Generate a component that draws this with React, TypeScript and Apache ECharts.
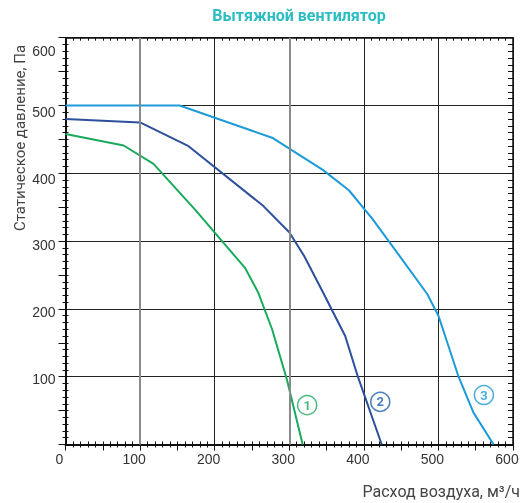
import React, { useEffect, useRef } from "react";
import * as echarts from "echarts";

const title = "Вытяжной вентилятор";
const xName = "Расход воздуха, м³/ч";
const yName = "Статическое давление, Па";

const flow1 = [0, 78, 118, 174, 241, 258, 277, 297, 318];
const pressure1 = [458, 441, 414, 346, 260, 225, 170, 95, 0];

const flow2 = [0, 100, 165, 265, 300, 320, 345, 375, 392, 424];
const pressure2 = [480, 475, 440, 352, 313, 278, 225, 160, 100, 0];

const flow3 = [0, 153, 278, 345, 380, 412, 450, 485, 500, 512, 527, 547, 574];
const pressure3 = [500, 500, 452, 405, 375, 332, 275, 222, 190, 150, 100, 47, 0];

const markerNames = ["1", "2", "3"];
const markerFlow = [324, 422, 561];
const markerPressure = [58, 63, 73];

const colors = ["#1aaa5c", "#2d4f9e", "#1c9bd8"];
const labelColors = ["#1aaa5c", "#1f5dab", "#1c9bd8"];

const zip = (a: number[], b: number[]) => a.map((v, i) => [v, b[i]]);

export default function App() {
  const ref = useRef<HTMLDivElement>(null);
  useEffect(() => {
    if (!ref.current) return;
    const chart = echarts.init(ref.current, null, { renderer: "svg" });
    const tickFont = { fontFamily: "Liberation Sans, Arial, sans-serif", fontSize: 14, color: "#333" };
    const baseX = { type: "value", min: 0, max: 600, axisLine: { onZero: false, lineStyle: { color: "#111", width: 1.5 } }, splitLine: { show: false }, axisLabel: { show: false } };
    const baseY = { type: "value", min: 0, max: 600, axisLine: { onZero: false, lineStyle: { color: "#111", width: 1.5 } }, splitLine: { show: false }, axisLabel: { show: false } };
    const curves = [zip(flow1, pressure1), zip(flow2, pressure2), zip(flow3, pressure3)];
    const series: any[] = curves.map((d, i) => ({
      type: "line",
      data: d,
      showSymbol: false,
      symbol: "none",
      lineStyle: { color: colors[i], width: 2 },
      z: 3,
    }));
    series.unshift({
      type: "line",
      data: [],
      markLine: {
        silent: true,
        symbol: "none",
        label: { show: false },
        lineStyle: { color: "#8a8a8a", width: 2, type: "solid" },
        data: [{ xAxis: 100 }, { xAxis: 300 }],
      },
      z: 2,
    });
    markerNames.forEach((n, i) => {
      series.push({
        type: "scatter",
        data: [[markerFlow[i], markerPressure[i]]],
        symbol: "circle",
        symbolSize: 19,
        itemStyle: { color: "#fff", borderColor: labelColors[i], borderWidth: 1.5 },
        label: {
          show: true,
          position: "inside",
          formatter: n,
          color: labelColors[i],
          fontWeight: "bold",
          fontSize: 13,
          fontFamily: "Roboto, sans-serif",
        },
        z: 5,
      });
    });
    chart.setOption({
      animation: false,
      grid: { left: 65.5, right: 10, top: 37.7, bottom: 58.5, containLabel: false },
      xAxis: [
        {
          ...baseX,
          position: "bottom",
          interval: 100,
          axisTick: { show: false },
          splitLine: { show: true, lineStyle: { color: "#222", width: 1 } },
          axisLabel: { show: true, ...tickFont, margin: 7, padding: [0, 12, 0, 0] },
        },
        { ...baseX, position: "bottom", interval: 10, axisTick: { show: true, inside: true, length: 3, lineStyle: { color: "#111" } } },
        { ...baseX, position: "bottom", interval: 10, axisTick: { show: true, inside: false, length: 3, lineStyle: { color: "#111" } } },
        { ...baseX, position: "bottom", interval: 50, axisTick: { show: true, inside: false, length: 6, lineStyle: { color: "#111" } } },
        { ...baseX, position: "top", interval: 10, axisTick: { show: true, inside: true, length: 3, lineStyle: { color: "#111" } } },
      ],
      yAxis: [
        {
          ...baseY,
          position: "left",
          interval: 100,
          axisTick: { show: false },
          splitLine: { show: true, lineStyle: { color: "#222", width: 1 } },
          axisLabel: {
            show: true,
            ...tickFont,
            margin: 10,
            showMinLabel: false,
            formatter: (v: number) => `{p${v}|${v}}`,
            rich: {
              p100: { ...tickFont, padding: [4, 0, 0, 0] },
              p200: { ...tickFont, padding: [6, 0, 0, 0] },
              p300: { ...tickFont, padding: [8, 0, 0, 0] },
              p400: { ...tickFont, padding: [11, 0, 0, 0] },
              p500: { ...tickFont, padding: [13, 0, 0, 0] },
              p600: { ...tickFont, padding: [26, 0, 0, 0] },
            },
          },
        },
        { ...baseY, position: "left", interval: 10, axisTick: { show: true, inside: true, length: 3, lineStyle: { color: "#111" } } },
        { ...baseY, position: "left", interval: 10, axisTick: { show: true, inside: false, length: 3, lineStyle: { color: "#111" } } },
        { ...baseY, position: "left", interval: 50, axisTick: { show: true, inside: false, length: 7, lineStyle: { color: "#111" } } },
        { ...baseY, position: "right", interval: 10, axisTick: { show: true, inside: true, length: 5, lineStyle: { color: "#111" } } },
      ],
      graphic: [
        {
          type: "text",
          x: 299,
          y: 15,
          style: {
            text: title,
            fill: "#2bbcc4",
            font: "bold 16px Roboto, sans-serif",
            textAlign: "center",
            textVerticalAlign: "middle",
          },
        },
        {
          type: "text",
          x: 20,
          y: 138,
          rotation: Math.PI / 2,
          style: {
            text: yName,
            fill: "#444",
            font: "15px Roboto, sans-serif",
            textAlign: "center",
            textVerticalAlign: "middle",
          },
        },
        {
          type: "text",
          x: 520,
          y: 491,
          style: {
            text: xName,
            fill: "#444",
            font: "16px Roboto, sans-serif",
            textAlign: "right",
            textVerticalAlign: "middle",
          },
        },
      ],
      series,
    });
    return () => chart.dispose();
  }, []);
  return <div ref={ref} style={{ position: "fixed", left: 0, top: 0, width: 523, height: 503 }} />;
}
